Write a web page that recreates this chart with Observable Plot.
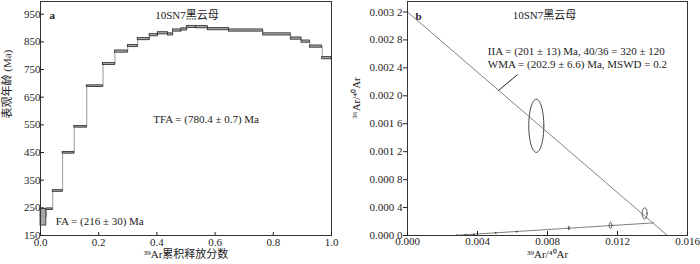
<!DOCTYPE html>
<html><head><meta charset="utf-8">
<script src="https://cdn.jsdelivr.net/npm/d3@7"></script>
<script src="https://cdn.jsdelivr.net/npm/@observablehq/plot@0.6"></script>
<style>
body{margin:0;background:#fff;}
#wrap{position:relative;width:700px;height:264px;overflow:hidden;}
#wrap svg{position:absolute;top:0;}
</style></head><body><div id="wrap"></div>
<script>
// ---- Panel a: age spectrum ----
const fracBounds = [0, 0.020, 0.042, 0.076, 0.116, 0.159, 0.215, 0.256, 0.300, 0.334, 0.375, 0.403, 0.438, 0.455, 0.484, 0.503, 0.535, 0.575, 0.648, 0.765, 0.860, 0.897, 0.926, 0.968, 1.0];
const apparentAges = [216, 245, 311, 449, 543, 690, 770, 815, 835, 860, 874, 881, 877, 891, 895, 904, 903, 896, 891, 877, 862, 851, 833, 791];
const ageErrors = [30, 3, 3, 3, 3, 3, 4, 4, 4, 4, 4, 4, 4, 4, 4, 4, 4, 4, 4, 4, 4, 4, 4, 4];
const ageTicks = [150, 250, 350, 450, 550, 650, 750, 850, 950];
const fracTicks = [0, 0.2, 0.4, 0.6, 0.8, 1.0];

// ---- Panel b: inverse isochron ----
const ratio39_40 = [0.0028, 0.00331, 0.00379, 0.00503, 0.00623, 0.00922, 0.0116, 0.01355, 0.00736];
const ratio36_40 = [0.000003, 0.000010, 0.000017, 0.000038, 0.000055, 0.000107, 0.000147, 0.000317, 0.00157];
const err39_40 = [0.00002, 0.00002, 0.00002, 0.00002, 0.00002, 0.00003, 0.000075, 0.00014, 0.00043];
const err36_40 = [0.000006, 0.000006, 0.000006, 0.000008, 0.00001, 0.000026, 0.000043, 0.000079, 0.00038];
const isochronX = [0, 0.01485];
const isochronY = [0.0032, 0];
const trendX = [0.0028, 0.01408];
const trendY = [0.000003, 0.000181];
const leaderX = [0.00522, 0.00627];
const leaderY = [0.00208, 0.0023];
const ratioYTicks = [0, 0.0004, 0.0008, 0.0012, 0.0016, 0.0020, 0.0024, 0.0028, 0.0032];
const ratioXTicks = [0, 0.004, 0.008, 0.012, 0.016];

const FONT = "'Liberation Serif','Noto Sans CJK SC',serif";
const wrap = document.getElementById("wrap");

const steps = apparentAges.map((a, i) => ({x1: fracBounds[i], x2: fracBounds[i + 1], y1: a - ageErrors[i], y2: a + ageErrors[i], age: a}));
const stair = steps.flatMap(s => [{x: s.x1, y: s.age}, {x: s.x2, y: s.age}]);

const plotA = Plot.plot({
  width: 350, height: 264,
  marginLeft: 40, marginRight: 19, marginTop: 1, marginBottom: 29,
  style: {fontFamily: FONT, fontSize: "11px", color: "#222", background: "transparent"},
  x: {domain: [0, 1]},
  y: {domain: [150, 996]},
  marks: [
    Plot.line(stair, {x: "x", y: "y", stroke: "#9a9a9a", strokeWidth: 1}),
    Plot.rect(steps, {x1: "x1", x2: "x2", y1: "y1", y2: "y2", fill: "#a8a8a8", stroke: "#2a2a2a", strokeWidth: 0.8}),
    Plot.frame({stroke: "#333", strokeWidth: 1}),
    Plot.axisX({ticks: fracTicks, tickFormat: d3.format(".1f"), tickSize: -3, tickPadding: 6, label: null}),
    Plot.axisY({ticks: ageTicks, tickFormat: d => String(d), tickSize: -4, tickPadding: 4, label: null}),
    Plot.text(["表观年龄 (Ma)"], {frameAnchor: "left", rotate: -90, dx: -33, fontSize: 11}),
    Plot.text(["³⁹Ar累积释放分数"], {frameAnchor: "bottom", dy: 22, fontSize: 11}),
    Plot.text(["a"], {frameAnchor: "top-left", textAnchor: "start", dx: 9, dy: 10, fontWeight: "bold", fontSize: 11}),
    Plot.text(["10SN7黑云母"], {frameAnchor: "top", dy: 10, dx: 1, fontSize: 11}),
    Plot.text(["TFA = (780.4 ± 0.7) Ma"], {x: 0.569, y: 569, fontSize: 11}),
    Plot.text(["FA = (216 ± 30) Ma"], {x: 0.052, y: 200, textAnchor: "start", fontSize: 11})
  ]
});
plotA.style.left = "0px";
wrap.appendChild(plotA);

const ellipses = ratio39_40.flatMap((cx, i) => d3.range(0, 65).map(k => {
  const t = 2 * Math.PI * k / 64;
  return {id: i, x: cx + err39_40[i] * Math.cos(t), y: ratio36_40[i] + err36_40[i] * Math.sin(t)};
}));
const isoLine = isochronX.map((x, i) => ({x, y: isochronY[i]}));
const trendLine = trendX.map((x, i) => ({x, y: trendY[i]}));
const leader = leaderX.map((x, i) => ({x, y: leaderY[i]}));
const yFmt = d => { const s = d3.format(".4f")(d); return s.slice(0, 5) + " " + s.slice(5); };

const plotB = Plot.plot({
  width: 350, height: 264,
  marginLeft: 57, marginRight: 13, marginTop: 1, marginBottom: 29,
  style: {fontFamily: FONT, fontSize: "11px", color: "#222", background: "transparent"},
  x: {domain: [0, 0.016]},
  y: {domain: [0, 0.00335]},
  marks: [
    Plot.line(isoLine, {x: "x", y: "y", stroke: "#808080", strokeWidth: 1}),
    Plot.line(trendLine, {x: "x", y: "y", stroke: "#808080", strokeWidth: 1}),
    Plot.line(leader, {x: "x", y: "y", stroke: "#222", strokeWidth: 1}),
    Plot.line(ellipses, {x: "x", y: "y", z: "id", stroke: "#444", strokeWidth: 1, curve: "linear-closed"}),
    Plot.frame({stroke: "#333", strokeWidth: 1}),
    Plot.axisX({ticks: ratioXTicks, tickFormat: d3.format(".3f"), tickSize: -4, tickPadding: 6, label: null}),
    Plot.axisY({ticks: ratioYTicks, tickFormat: yFmt, tickSize: 4, tickPadding: 1, label: null}),
    Plot.text(["³⁶Ar/⁴⁰Ar"], {frameAnchor: "left", rotate: -90, dx: -51, fontSize: 11}),
    Plot.text(["³⁹Ar/⁴⁰Ar"], {frameAnchor: "bottom", dy: 22, fontSize: 11}),
    Plot.text(["b"], {frameAnchor: "top-left", textAnchor: "start", dx: 8, dy: 11, fontWeight: "bold", fontSize: 11}),
    Plot.text(["10SN7黑云母"], {frameAnchor: "top", dy: 10, dx: -3, fontSize: 11}),
    Plot.text(["IIA = (201 ± 13) Ma, 40/36 = 320 ± 120"], {x: 0.00459, y: 0.002629, textAnchor: "start", fontSize: 11}),
    Plot.text(["WMA = (202.9 ± 6.6) Ma, MSWD = 0.2"], {x: 0.00459, y: 0.00245, textAnchor: "start", fontSize: 11})
  ]
});
plotB.style.left = "350px";
wrap.appendChild(plotB);
</script>
</body></html>
